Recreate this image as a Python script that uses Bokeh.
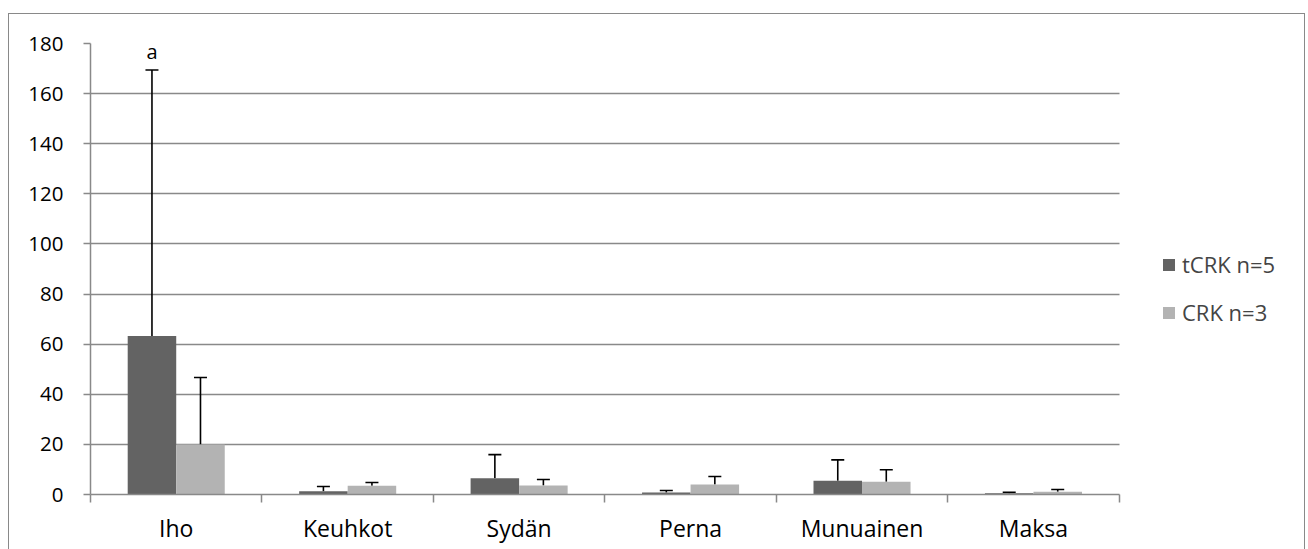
from bokeh.plotting import figure
from bokeh.models import Range1d, FixedTicker, ColumnDataSource, Whisker, TeeHead, Legend
from bokeh.core.properties import value
from bokeh.embed import file_html
from bokeh.resources import INLINE

# Organ categories and group means with their standard deviations
organs = ["Iho", "Keuhkot", "Sydän", "Perna", "Munuainen", "Maksa"]
tcrk_mean = [63.3, 1.3, 6.5, 0.8, 5.5, 0.5]
tcrk_sd = [106.1, 1.9, 9.4, 0.8, 8.3, 0.4]
crk_mean = [20.0, 3.5, 3.6, 4.0, 5.1, 1.1]
crk_sd = [26.7, 1.3, 2.4, 3.2, 4.8, 0.9]
series_names = ["tCRK n=5", "CRK n=3"]
y_ticks = [0, 20, 40, 60, 80, 100, 120, 140, 160, 180]
significance_mark = "a"

FONT = "Open Sans"
GRID = "#898989"
DARK = "#636363"
LIGHT = "#b3b3b3"
BAR_W = 0.283

# canvas layout (pixels): plotting area 1027 px wide, legend to its right
W, H = 1295, 535
LEFT, TOP, BOTTOM, RIGHT = 81, 29, 56, 2
CAT_PX = 1027 / len(organs)
x_end = (W - LEFT - RIGHT) / CAT_PX

n = len(organs)
centers = [i + 0.5 for i in range(n)]

src_t = ColumnDataSource(dict(
    x=[c - BAR_W / 2 for c in centers],
    top=tcrk_mean,
    upper=[m + s for m, s in zip(tcrk_mean, tcrk_sd)],
))
src_c = ColumnDataSource(dict(
    x=[c + BAR_W / 2 for c in centers],
    top=crk_mean,
    upper=[m + s for m, s in zip(crk_mean, crk_sd)],
))

p = figure(width=W, height=H, output_backend="svg", toolbar_location=None,
           x_range=Range1d(0, x_end), y_range=Range1d(0, 180),
           min_border_left=LEFT, min_border_right=RIGHT,
           min_border_top=TOP, min_border_bottom=BOTTOM)
p.outline_line_color = None
p.background_fill_color = "white"
p.border_fill_color = "white"
# thin gray frame around the chart (open at the bottom edge of the page)
p.styles = {
    "margin-left": "8px",
    "margin-top": "13px",
    "border-left": f"1px solid {GRID}",
    "border-top": f"1px solid {GRID}",
    "border-right": f"1px solid {GRID}",
    "box-sizing": "content-box",
}

# y axis and horizontal grid, limited to the category span
p.yaxis.ticker = FixedTicker(ticks=y_ticks)
p.yaxis.axis_line_color = GRID
p.yaxis.axis_line_width = 1.5
p.yaxis.major_tick_line_color = GRID
p.yaxis.major_tick_line_width = 1.5
p.yaxis.major_tick_out = 7
p.yaxis.major_tick_in = 0
p.yaxis.minor_tick_line_color = None
p.yaxis.major_label_standoff = 20
p.yaxis.major_label_text_font = FONT
p.yaxis.major_label_text_font_size = "20.5px"
p.yaxis.major_label_text_color = "black"
p.ygrid.ticker = FixedTicker(ticks=y_ticks)
p.ygrid.grid_line_color = GRID
p.ygrid.grid_line_width = 1.5
p.ygrid.cross_bounds = (0, n)
p.xgrid.grid_line_color = None

# x axis: labels centred in each category, tick marks on the category boundaries
p.xaxis.bounds = (0, n)
p.xaxis.ticker = FixedTicker(ticks=centers, minor_ticks=list(range(n + 1)))
p.xaxis.major_label_overrides = {c: name for c, name in zip(centers, organs)}
p.xaxis.axis_line_color = GRID
p.xaxis.axis_line_width = 1.5
p.xaxis.major_tick_line_color = None
p.xaxis.major_tick_out = 0
p.xaxis.major_tick_in = 0
p.xaxis.minor_tick_line_color = GRID
p.xaxis.minor_tick_line_width = 1.5
p.xaxis.minor_tick_out = 8
p.xaxis.minor_tick_in = 0
p.xaxis.major_label_standoff = 9
p.xaxis.major_label_text_font = FONT
p.xaxis.major_label_text_font_size = "23px"
p.xaxis.major_label_text_color = "black"

r1 = p.vbar(x="x", top="top", width=BAR_W, source=src_t, fill_color=DARK, line_color=None)
r2 = p.vbar(x="x", top="top", width=BAR_W, source=src_c, fill_color=LIGHT, line_color=None)

for src in (src_t, src_c):
    p.add_layout(Whisker(source=src, base="x", lower="top", upper="upper",
                         line_color="black", line_width=1.6,
                         upper_head=TeeHead(size=13, line_color="black", line_width=1.6),
                         lower_head=None))

p.text(x=[centers[0] - BAR_W / 2], y=[177.0], text=[significance_mark],
       text_font=value(FONT), text_font_size="20px", text_color="black",
       text_align="center", text_baseline="middle")

legend = Legend(items=[(series_names[0], [r1]), (series_names[1], [r2])],
                location=(1071, 167), padding=0, margin=0, spacing=18,
                glyph_width=15, glyph_height=15, label_standoff=6, label_height=30,
                label_text_font=FONT, label_text_font_size="22px",
                border_line_color=None, background_fill_color=None)
p.add_layout(legend)

open("out.html", "w").write(file_html(p, INLINE))
